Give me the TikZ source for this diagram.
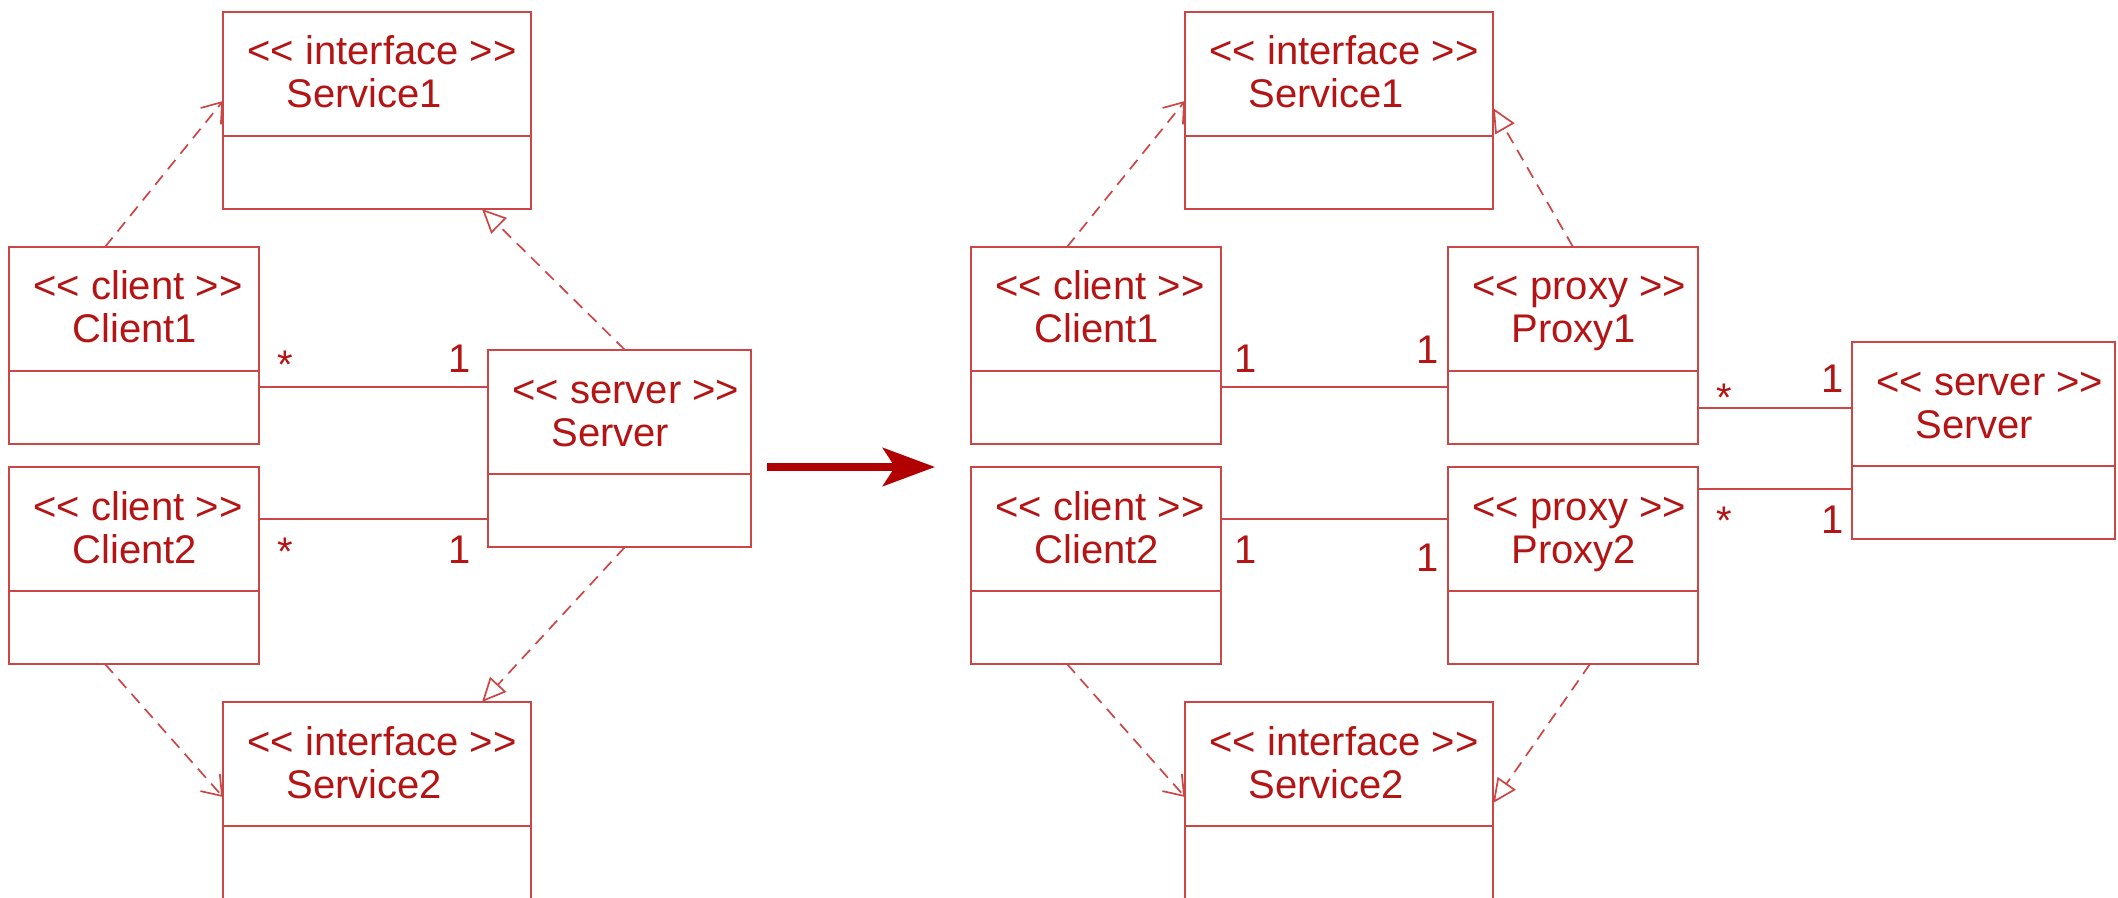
\documentclass[tikz,border=0pt]{standalone}
\usepackage{fontspec}
\setmainfont{Liberation Sans}
\usetikzlibrary{arrows.meta}

\definecolor{umlred}{RGB}{180,20,20}
\definecolor{umlline}{RGB}{205,70,70}
\definecolor{arrowred}{RGB}{176,0,0}

% class box: name, x, y, width, stereotype, title
\newcommand{\umlclass}[6]{%
  \node[cls, minimum width=#4] (#1) at (#2,#3) {};
  \draw[thinline] ([yshift=-62pt]#1.north west) -- ([yshift=-62pt]#1.north east);
  \node[txt] (#1-st) at ([shift={(24,53)}]#1.north west) {<\kern0pt< #5 >\kern0pt>};
  \node[txt] (#1-nm) at ([shift={(63,96)}]#1.north west) {#6};
}

\begin{document}
\begin{tikzpicture}[x=0.5pt,y=-0.5pt,font=\fontsize{20}{24}\selectfont,
  thinline/.style={draw=umlline,line width=0.85pt},
  cls/.style={thinline,anchor=north west,minimum height=98.5pt,inner sep=0pt,outer sep=0pt},
  txt/.style={text=umlred,anchor=base west,inner sep=0pt},
  mult/.style={text=umlred,anchor=base,inner sep=0pt},
  dep/.style={thinline,dash pattern=on 6pt off 4pt,-{Straight Barb[length=9pt,width=13pt]}},
  real/.style={thinline,dash pattern=on 6pt off 4pt,-{Triangle[open,length=12pt,width=11pt]}},
  bigarrow/.style={draw=arrowred,line width=4pt,-{Stealth[length=26pt,width=19pt,inset=6pt]}}]
\useasboundingbox (0,0) rectangle (2118,898);

% before
\umlclass{ls1}{223}{12}{154pt}{interface}{Service1}
\umlclass{lc1}{9}{247}{125pt}{client}{Client1}
\umlclass{lc2}{9}{467}{125pt}{client}{Client2}
\umlclass{lsv}{488}{350}{131.5pt}{server}{Server}
\umlclass{ls2}{223}{702}{154pt}{interface}{Service2}

\coordinate (la) at ([yshift=-20.75pt]lc1.east);
\coordinate (lb) at ([yshift=23.25pt]lc2.east);
\draw[thinline] (la) -- (la -| lsv.west);
\draw[thinline] (lb) -- (lb -| lsv.west);
\node[mult] (lm1) at (285,379) {*};
\node[mult] (lm2) at (460,372) {1};
\node[mult] (lm3) at (285,565) {*};
\node[mult] (lm4) at (460,563) {1};

\draw[dep] ([xshift=-14.5pt]lc1.north) -- ([yshift=4.75pt]ls1.west);
\draw[real] ([xshift=2.75pt]lsv.north) -- ([xshift=52.5pt]ls1.south);
\draw[dep] ([xshift=-14.5pt]lc2.south) -- ([yshift=1.75pt]ls2.west);
\draw[real] ([xshift=2.75pt]lsv.south) -- ([xshift=52.5pt]ls2.north);

% refactoring arrow
\coordinate (go) at (767,467);
\coordinate (to) at (935,467);
\draw[bigarrow] (go) -- (to);

% after
\umlclass{rs1}{1185}{12}{154pt}{interface}{Service1}
\umlclass{rc1}{971}{247}{125pt}{client}{Client1}
\umlclass{rc2}{971}{467}{125pt}{client}{Client2}
\umlclass{rp1}{1448}{247}{125pt}{proxy}{Proxy1}
\umlclass{rp2}{1448}{467}{125pt}{proxy}{Proxy2}
\umlclass{rsv}{1852}{342}{131.5pt}{server}{Server}
\umlclass{rs2}{1185}{702}{154pt}{interface}{Service2}

\coordinate (ra) at ([yshift=-20.75pt]rc1.east);
\coordinate (rb) at ([yshift=23.25pt]rc2.east);
\coordinate (rc) at ([yshift=-31.25pt]rp1.east);
\coordinate (rd) at ([yshift=38.25pt]rp2.east);
\draw[thinline] (ra) -- (ra -| rp1.west);
\draw[thinline] (rb) -- (rb -| rp2.west);
\draw[thinline] (rc) -- (rc -| rsv.west);
\draw[thinline] (rd) -- (rd -| rsv.west);
\node[mult] (rm1) at (1246,372) {1};
\node[mult] (rm2) at (1428,364) {1};
\node[mult] (rm3) at (1246,563) {1};
\node[mult] (rm4) at (1428,571) {1};
\node[mult] (rm5) at (1724,411) {*};
\node[mult] (rm6) at (1833,393) {1};
\node[mult] (rm7) at (1724,534) {*};
\node[mult] (rm8) at (1833,533) {1};

\draw[dep] ([xshift=-14.5pt]rc1.north) -- ([yshift=4.75pt]rs1.west);
\draw[real] (rp1.north) -- ([yshift=1.25pt]rs1.east);
\draw[dep] ([xshift=-14.5pt]rc2.south) -- ([yshift=1.75pt]rs2.west);
\draw[real] ([xshift=8.5pt]rp2.south) -- ([yshift=-1.25pt]rs2.east);

\end{tikzpicture}
\end{document}
